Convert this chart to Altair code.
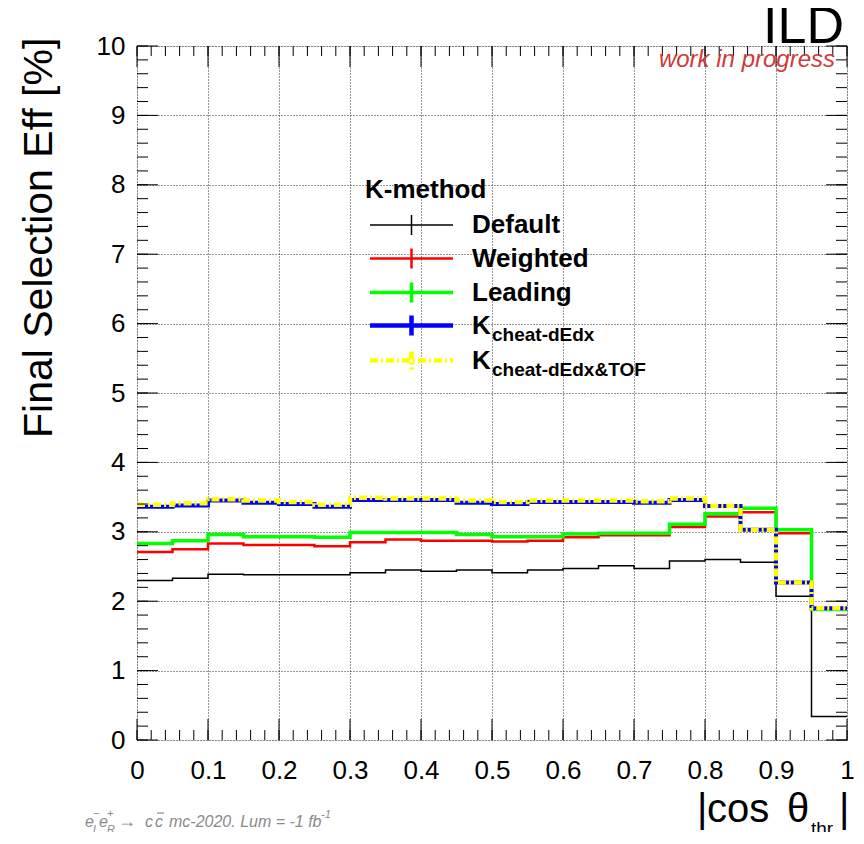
import altair as alt
import pandas as pd
import numpy as np

# ---------------- data ----------------
bin_low = [0.00, 0.05, 0.10, 0.15, 0.20, 0.25, 0.30, 0.35, 0.40, 0.45,
           0.50, 0.55, 0.60, 0.65, 0.70, 0.75, 0.80, 0.85, 0.90, 0.95]
x_end = 1.0

eff_default = [2.30, 2.33, 2.39, 2.38, 2.38, 2.38, 2.41, 2.45, 2.43, 2.45,
               2.41, 2.45, 2.47, 2.51, 2.47, 2.58, 2.60, 2.56, 2.07, 0.34]
eff_weighted = [2.71, 2.75, 2.83, 2.81, 2.81, 2.79, 2.85, 2.89, 2.87, 2.87,
                2.86, 2.87, 2.92, 2.95, 2.95, 3.07, 3.22, 3.28, 2.98, 1.88]
eff_leading = [2.83, 2.87, 2.96, 2.93, 2.93, 2.92, 2.99, 2.99, 2.99, 2.96,
               2.93, 2.93, 2.97, 2.98, 2.98, 3.11, 3.26, 3.34, 3.03, 1.88]
eff_cheat_dedx = [3.36, 3.38, 3.45, 3.42, 3.40, 3.36, 3.46, 3.46, 3.46, 3.42,
                  3.40, 3.43, 3.43, 3.43, 3.42, 3.46, 3.37, 3.03, 2.27, 1.90]
eff_cheat_tof = [3.39, 3.41, 3.47, 3.45, 3.43, 3.39, 3.49, 3.48, 3.48, 3.45,
                 3.43, 3.45, 3.45, 3.45, 3.44, 3.48, 3.37, 3.03, 2.27, 1.90]

x_tick_labels = [0, 0.1, 0.2, 0.3, 0.4, 0.5, 0.6, 0.7, 0.8, 0.9, 1]
y_tick_labels = [0, 1, 2, 3, 4, 5, 6, 7, 8, 9, 10]

legend_header = "K-method"
legend_names = ["Default", "Weighted", "Leading", "K", "K"]
legend_subs = ["", "", "", "cheat-dEdx", "cheat-dEdx&TOF"]

# ---------------- layout ----------------
W, H = 710, 694
OX, OY = 137, 46          # absolute page position of the plot origin
FONT = "Liberation Sans"

xscale = alt.Scale(domain=[0, 1], nice=False, zero=False)
yscale = alt.Scale(domain=[0, 10], nice=False, zero=False)

XA = alt.Axis(values=x_tick_labels, format="~g", labelFont=FONT,
              labelFontSize=26, labelColor="black", labelPadding=17,
              ticks=False, domain=False, grid=True, gridColor="#333333",
              gridDash=[1, 2], gridWidth=1, title=None,
              labelFlush=False, labelOverlap=False)
YA = alt.Axis(values=y_tick_labels, format="d", labelFont=FONT,
              labelFontSize=26, labelColor="black", labelPadding=12,
              ticks=False, domain=False, grid=True, gridColor="#333333",
              gridDash=[1, 2], gridWidth=1, title=None,
              labelOverlap=False)

one = pd.DataFrame({"d": [0]})


def step_df(vals):
    return pd.DataFrame({"x": bin_low + [x_end], "y": vals + [vals[-1]]})


def hist_line(vals, color, width, dash=None):
    kw = dict(interpolate="step-after", color=color, strokeWidth=width,
              strokeCap="butt", clip=True)
    if dash is not None:
        kw["strokeDash"] = dash
    return alt.Chart(step_df(vals)).mark_line(**kw).encode(
        x=alt.X("x:Q", scale=xscale, axis=XA),
        y=alt.Y("y:Q", scale=yscale, axis=YA),
    )


def txt(text, x, y, size, align="left", baseline="alphabetic", color="black",
        weight="normal", style="normal", angle=0):
    return alt.Chart(pd.DataFrame({"t": [text]})).mark_text(
        align=align, baseline=baseline, fontSize=size, font=FONT, color=color,
        fontWeight=weight, fontStyle=style, angle=angle,
    ).encode(x=alt.value(x - OX), y=alt.value(y - OY), text="t:N")


def seg(x1, y1, x2, y2, color, width, dash=None):
    kw = dict(color=color, strokeWidth=width, strokeCap="butt")
    if dash is not None:
        kw["strokeDash"] = dash
    return alt.Chart(one).mark_rule(**kw).encode(
        x=alt.value(x1 - OX), y=alt.value(y1 - OY),
        x2=alt.value(x2 - OX), y2=alt.value(y2 - OY))


# ---------------- histogram lines ----------------
layers = [
    hist_line(eff_default, "#000000", 1.5),
    hist_line(eff_weighted, "#ff0000", 2.5),
    hist_line(eff_leading, "#00ff00", 3.5),
    hist_line(eff_cheat_dedx, "#0000ff", 4.0),
    hist_line(eff_cheat_tof, "#ffff00", 4.5, dash=[8, 3, 2, 3]),
]

# ---------------- inner ticks (ROOT style) ----------------
x_minor = pd.DataFrame({"v": np.round(np.arange(0, 1.0001, 0.02), 2)})
x_major = pd.DataFrame({"v": np.round(np.arange(0, 1.0001, 0.1), 1)})
y_minor = pd.DataFrame({"v": np.round(np.arange(0, 10.001, 0.2), 1)})
y_major = pd.DataFrame({"v": np.arange(0, 11)})

for df, ln in [(x_minor, 10), (x_major, 21)]:
    xe = alt.X("v:Q", scale=xscale, axis=XA)
    layers.append(alt.Chart(df).mark_rule(color="black", strokeWidth=1).encode(
        x=xe, y=alt.value(H), y2=alt.value(H - ln)))
    layers.append(alt.Chart(df).mark_rule(color="black", strokeWidth=1).encode(
        x=xe, y=alt.value(0), y2=alt.value(ln)))
for df, ln in [(y_minor, 11), (y_major, 21)]:
    ye = alt.Y("v:Q", scale=yscale, axis=YA)
    layers.append(alt.Chart(df).mark_rule(color="black", strokeWidth=1).encode(
        y=ye, x=alt.value(0), x2=alt.value(ln)))
    layers.append(alt.Chart(df).mark_rule(color="black", strokeWidth=1).encode(
        y=ye, x=alt.value(W), x2=alt.value(W - ln)))

# ---------------- legend ----------------
layers.append(txt(legend_header, 365, 198, 26, weight="bold"))
leg_y = [225, 258.5, 292.5, 325.5, 360.5]
leg_txt_y = [233, 267, 301, 334, 369]
leg_style = [("#000000", 1.5, None, 10), ("#ff0000", 2.5, None, 10),
             ("#00ff00", 3.5, None, 10), ("#0000ff", 4.5, None, 10),
             ("#ffff00", 4.5, [8, 3, 2, 3], 9)]
for i in range(5):
    col, w, dash, eh = leg_style[i]
    layers.append(seg(370, leg_y[i], 453, leg_y[i], col, w, dash))
    layers.append(seg(411.5, leg_y[i] - eh, 411.5, leg_y[i] + eh, col,
                      w if dash is None else 5, dash))
    layers.append(txt(legend_names[i], 472, leg_txt_y[i], 26, weight="bold"))
    if legend_subs[i]:
        layers.append(txt(legend_subs[i], 492, leg_txt_y[i] + 7, 19,
                          weight="bold"))

# ---------------- titles & labels ----------------
layers.append(txt("Final Selection Eff [%]", 52, 438, 41, angle=270))
layers.append(txt("|", 697, 822, 40))
layers.append(txt("cos", 707, 822, 40))
layers.append(txt("\u03b8", 787, 822, 40))
layers.append(txt("thr.", 811, 835, 19))
layers.append(txt("|", 839, 822, 40))

layers.append(txt("ILD", 844, 43, 52, align="right"))
layers.append(txt("work in progress", 835, 67, 24, align="right",
                  color="#d03a3a", style="italic"))

g = "#8a8a8a"
layers.append(txt("e", 85, 827, 16, color=g, style="italic"))
layers.append(txt("L", 93, 833, 11, color=g, style="italic"))
layers.append(txt("\u2212", 93, 817, 11, color=g, style="italic"))
layers.append(txt("e", 99, 827, 16, color=g, style="italic"))
layers.append(txt("R", 107, 833, 11, color=g, style="italic"))
layers.append(txt("+", 107, 817, 11, color=g, style="italic"))
layers.append(txt("\u2192", 118, 827, 18, color=g))
layers.append(txt("c", 145, 827, 16, color=g, style="italic"))
layers.append(txt("c", 155, 827, 16, color=g, style="italic"))
layers.append(seg(157, 813, 164, 813, g, 1.2))
layers.append(txt("mc-2020. Lum = -1 fb", 169, 827, 16, color=g,
                  style="italic"))
layers.append(txt("-1", 321, 818, 11, color=g, style="italic"))

chart = alt.layer(*layers).properties(
    width=W, height=H,
    padding={"left": 129, "top": 38, "right": 9, "bottom": 92},
    autosize=alt.AutoSizeParams(type="none"),
).configure_view(stroke="black", strokeWidth=2).configure(background="white")

chart.save("out.html", embed_options={"renderer": "svg", "actions": False})
